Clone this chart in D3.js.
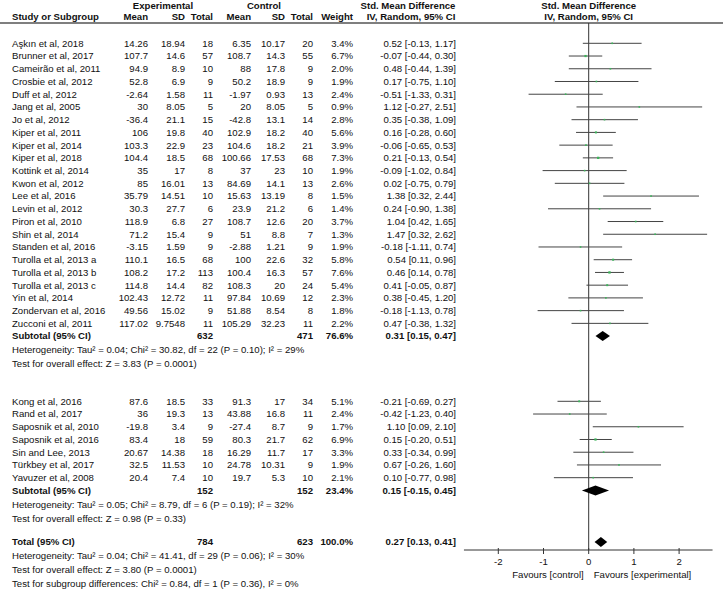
<!DOCTYPE html>
<html><head><meta charset="utf-8">
<script src="https://cdn.jsdelivr.net/npm/d3@7"></script>
<style>
body{margin:0;background:#fff;}
text{font-family:"Liberation Sans",Arial,sans-serif;font-size:9.6px;fill:#111;}
.b{font-weight:bold;}
</style></head><body>
<svg id="c" width="723" height="590"></svg>
<script>
// ---- data ----
const studies1 = ["Aşkın et al, 2018","Brunner et al, 2017","Cameirão et al, 2011","Crosbie et al, 2012","Duff et al, 2012","Jang et al, 2005","Jo et al, 2012","Kiper et al, 2011","Kiper et al, 2014","Kiper et al, 2018","Kottink et al, 2014","Kwon et al, 2012","Lee et al, 2016","Levin et al, 2012","Piron et al, 2010","Shin et al, 2014","Standen et al, 2016","Turolla et al, 2013 a","Turolla et al, 2013 b","Turolla et al, 2013 c","Yin et al, 2014","Zondervan et al, 2016","Zucconi et al, 2011"];
const expMean1 = [14.26,107.7,94.9,52.8,-2.64,30,-36.4,106,103.3,104.4,35,85,35.79,30.3,118.9,71.2,-3.15,110.1,108.2,114.8,102.43,49.56,117.02];
const expSD1   = [18.94,14.6,8.9,6.9,1.58,8.05,21.1,19.8,22.9,18.5,17,16.01,14.51,27.7,6.8,15.4,1.59,16.5,17.2,14.4,12.72,15.02,9.7548];
const expN1    = [18,57,10,9,11,5,15,40,23,68,8,13,10,6,27,9,9,68,113,82,11,9,11];
const ctlMean1 = [6.35,108.7,88,50.2,-1.97,20,-42.8,102.9,104.6,100.66,37,84.69,15.63,23.9,108.7,51,-2.88,100,100.4,108.3,97.84,51.88,105.29];
const ctlSD1   = [10.17,14.3,17.8,18.9,0.93,8.05,13.1,18.2,18.2,17.53,23,14.1,13.19,21.2,12.6,8.8,1.21,22.6,16.3,20,10.69,8.54,32.23];
const ctlN1    = [20,55,9,9,13,5,14,40,21,68,10,13,8,6,20,7,9,32,57,24,12,8,11];
const weight1  = [3.4,6.7,2.0,1.9,2.4,0.9,2.8,5.6,3.9,7.3,1.9,2.6,1.5,1.4,3.7,1.3,1.9,5.8,7.6,5.4,2.3,1.8,2.2];
const smd1     = [0.52,-0.07,0.48,0.17,-0.51,1.12,0.35,0.16,-0.06,0.21,-0.09,0.02,1.38,0.24,1.04,1.47,-0.18,0.54,0.46,0.41,0.38,-0.18,0.47];
const lo1      = [-0.13,-0.44,-0.44,-0.75,-1.33,-0.27,-0.38,-0.28,-0.65,-0.13,-1.02,-0.75,0.32,-0.90,0.42,0.32,-1.11,0.11,0.14,-0.05,-0.45,-1.13,-0.38];
const hi1      = [1.17,0.30,1.39,1.10,0.31,2.51,1.09,0.60,0.53,0.54,0.84,0.79,2.44,1.38,1.65,2.62,0.74,0.96,0.78,0.87,1.20,0.78,1.32];

const studies2 = ["Kong et al, 2016","Rand et al, 2017","Saposnik et al, 2010","Saposnik et al, 2016","Sin and Lee, 2013","Türkbey et al, 2017","Yavuzer et al, 2008"];
const expMean2 = [87.6,36,-19.8,83.4,20.67,32.5,20.4];
const expSD2   = [18.5,19.3,3.4,18,14.38,11.53,7.4];
const expN2    = [33,13,9,59,18,10,10];
const ctlMean2 = [91.3,43.88,-27.4,80.3,16.29,24.78,19.7];
const ctlSD2   = [17,16.8,8.7,21.7,11.7,10.31,5.3];
const ctlN2    = [34,11,9,62,17,9,10];
const weight2  = [5.1,2.4,1.7,6.9,3.3,1.9,2.1];
const smd2     = [-0.21,-0.42,1.10,0.15,0.33,0.67,0.10];
const lo2      = [-0.69,-1.23,0.09,-0.20,-0.34,-0.26,-0.77];
const hi2      = [0.27,0.40,2.10,0.51,0.99,1.60,0.98];

const pooledLabels = ["Subtotal (95% CI)","Subtotal (95% CI)","Total (95% CI)"];
const pooledExpN   = [632,152,784];
const pooledCtlN   = [471,152,623];
const pooledWeight = [76.6,23.4,100.0];
const pooledSmd    = [0.31,0.15,0.27];
const pooledLo     = [0.15,-0.15,0.13];
const pooledHi     = [0.47,0.45,0.41];

const hetText1 = ["Heterogeneity: Tau² = 0.04; Chi² = 30.82, df = 22 (P = 0.10); I² = 29%","Test for overall effect: Z = 3.83 (P = 0.0001)"];
const hetText2 = ["Heterogeneity: Tau² = 0.05; Chi² = 8.79, df = 6 (P = 0.19); I² = 32%","Test for overall effect: Z = 0.98 (P = 0.33)"];
const hetText3 = ["Heterogeneity: Tau² = 0.04; Chi² = 41.41, df = 29 (P = 0.06); I² = 30%","Test for overall effect: Z = 3.80 (P = 0.0001)","Test for subgroup differences: Chi² = 0.84, df = 1 (P = 0.36), I² = 0%"];
const axisTicks = [-2,-1,0,1,2];
const axisLabels = ["Favours [control]","Favours [experimental]"];

// ---- layout ----
const svg = d3.select("#c");
svg.append("rect").attr("width",723).attr("height",590).attr("fill","#fff");
const x = d3.scaleLinear().domain([-2,2]).range([498.3,679.1]);
const P = 12.73;
const col = {name:12, em:148, esd:185, en:213, cm:251, csd:285, cn:313, w:353, ci:456};
const axisY = 550;
const fmt2 = d3.format(".2f");
const ciStr = (m,l,h)=> `${fmt2(m)} [${fmt2(l)}, ${fmt2(h)}]`.replace(/−/g,"-");

function txt(xp,y,s,anchor,bold){
  return svg.append("text").attr("x",xp).attr("y",y).attr("dy","0.35em")
    .attr("text-anchor",anchor||"start").attr("class",bold?"b":null).text(s);
}

// header
txt(163,5.5,"Experimental","middle",true);
txt(264,5.5,"Control","middle",true);
txt(408,5.5,"Std. Mean Difference","middle",true);
txt(x(0),5.5,"Std. Mean Difference","middle",true);
txt(col.name,16.5,"Study or Subgroup","start",true);
[["Mean",col.em],["SD",col.esd],["Total",col.en],["Mean",col.cm],["SD",col.csd],["Total",col.cn],["Weight",col.w]]
  .forEach(([s,xp])=>txt(xp,16.5,s,"end",true));
txt(411,16.5,"IV, Random, 95% CI","middle",true);
txt(x(0),16.5,"IV, Random, 95% CI","middle",true);
svg.append("line").attr("x1",0).attr("x2",723).attr("y1",23).attr("y2",23)
  .attr("stroke","#555").attr("stroke-width",1.5);

// zero line
svg.append("line").attr("x1",x(0)).attr("x2",x(0)).attr("y1",23).attr("y2",axisY)
  .attr("stroke","#333").attr("stroke-width",1);

function drawGroup(names,em,esd,en,cm,csd,cn,w,smd,lo,hi,y0){
  names.forEach((n,i)=>{
    const y = y0 + i*P;
    txt(col.name,y,n);
    txt(col.em,y,String(em[i]),"end");
    txt(col.esd,y,String(esd[i]),"end");
    txt(col.en,y,String(en[i]),"end");
    txt(col.cm,y,String(cm[i]),"end");
    txt(col.csd,y,String(csd[i]),"end");
    txt(col.cn,y,String(cn[i]),"end");
    txt(col.w,y,w[i].toFixed(1)+"%","end");
    txt(col.ci,y,ciStr(smd[i],lo[i],hi[i]),"end");
    svg.append("line").attr("x1",x(lo[i])).attr("x2",x(hi[i])).attr("y1",y).attr("y2",y)
      .attr("stroke","#444").attr("stroke-width",1);
    const s = Math.max(1.6, Math.sqrt(w[i])*0.85);
    svg.append("rect").attr("x",x(smd[i])-s/2).attr("y",y-s/2).attr("width",s).attr("height",s)
      .attr("fill","#3cb35a");
  });
}
function drawPooled(k,y){
  txt(col.name,y,pooledLabels[k],"start",true);
  txt(col.en,y,String(pooledExpN[k]),"end",true);
  txt(col.cn,y,String(pooledCtlN[k]),"end",true);
  txt(col.w,y,pooledWeight[k].toFixed(1)+"%","end",true);
  txt(col.ci,y,ciStr(pooledSmd[k],pooledLo[k],pooledHi[k]),"end",true);
  const h=5;
  svg.append("path").attr("d",`M${x(pooledLo[k])},${y} L${x(pooledSmd[k])},${y-h} L${x(pooledHi[k])},${y} L${x(pooledSmd[k])},${y+h} Z`)
    .attr("fill","#000");
}
function drawNotes(lines,y0,step){
  lines.forEach((s,i)=>txt(col.name,y0+i*step,s));
}

const g1y = 43.3;
drawGroup(studies1,expMean1,expSD1,expN1,ctlMean1,ctlSD1,ctlN1,weight1,smd1,lo1,hi1,g1y);
drawPooled(0,g1y+studies1.length*P);
drawNotes(hetText1,g1y+studies1.length*P+14,14);

const g2y = 401.3;
drawGroup(studies2,expMean2,expSD2,expN2,ctlMean2,ctlSD2,ctlN2,weight2,smd2,lo2,hi2,g2y);
drawPooled(1,g2y+studies2.length*P);
drawNotes(hetText2,g2y+studies2.length*P+14,14);

const ty = 542;
drawPooled(2,ty);
drawNotes(hetText3,ty+14,14);

// axis
svg.append("line").attr("x1",x(-2.76)).attr("x2",x(2.74)).attr("y1",axisY).attr("y2",axisY)
  .attr("stroke","#333").attr("stroke-width",1);
axisTicks.forEach(t=>{
  svg.append("line").attr("x1",x(t)).attr("x2",x(t)).attr("y1",axisY-2).attr("y2",axisY+4)
    .attr("stroke","#333").attr("stroke-width",1);
  txt(x(t),axisY+12,String(t),"middle");
});
txt(x(0)-5,axisY+25,axisLabels[0],"end");
txt(x(0)+5,axisY+25,axisLabels[1],"start");
</script>
</body></html>
